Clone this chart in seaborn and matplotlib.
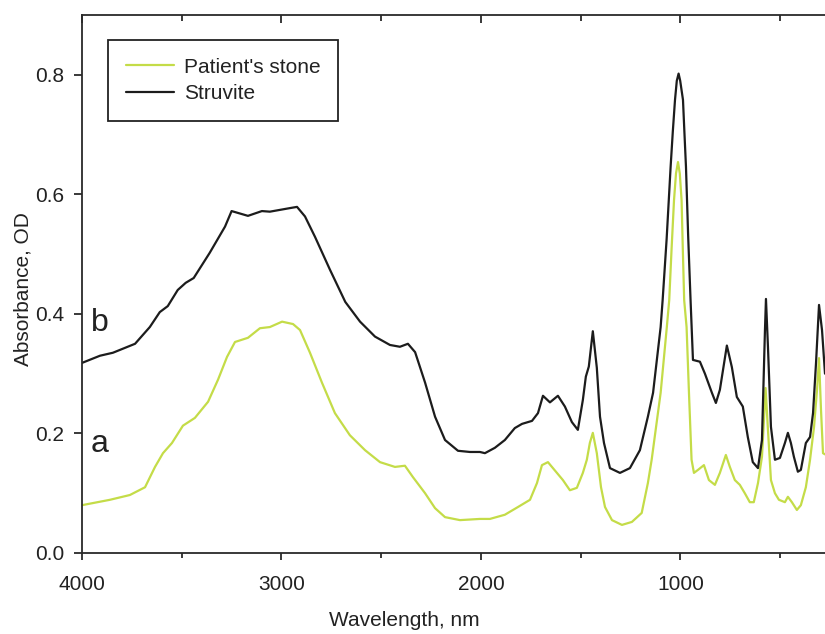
import matplotlib
matplotlib.use("Agg")
import matplotlib.pyplot as plt
import seaborn as sns
import pandas as pd
from matplotlib.ticker import MultipleLocator

# ---- data ----
struvite_wn = [4000, 3910, 3845, 3734, 3660, 3610, 3570, 3520, 3480, 3440,
               3360, 3283, 3250, 3168, 3098, 3058, 2957, 2922, 2882, 2832,
               2757, 2680, 2606, 2531, 2456, 2406, 2366, 2330, 2280, 2230,
               2180, 2115, 2055, 2005, 1980, 1930, 1880, 1830, 1794, 1744,
               1714, 1689, 1654, 1614, 1579, 1544, 1514, 1489, 1474, 1459,
               1439, 1419, 1403, 1383, 1353, 1303, 1253, 1203, 1163, 1137,
               1099, 1089, 1069, 1049, 1038, 1027, 1018, 1009, 1001, 987,
               980, 972, 961, 949, 937, 902,
               877, 842, 822, 802, 767, 742, 717, 687, 662, 637,
               611, 591, 576, 571, 561, 546, 526, 501, 476, 461,
               446, 431, 411, 396, 371, 350, 335, 320, 305, 290,
               275]
struvite_abs = [0.318, 0.330, 0.335, 0.350, 0.378, 0.403, 0.413, 0.440, 0.452, 0.460,
                0.502, 0.546, 0.572, 0.564, 0.572, 0.571, 0.577, 0.579, 0.563, 0.529,
                0.474, 0.420, 0.387, 0.362, 0.348, 0.345, 0.350, 0.336, 0.285, 0.228,
                0.189, 0.171, 0.169, 0.169, 0.167, 0.176, 0.189, 0.209, 0.216, 0.221,
                0.234, 0.263, 0.252, 0.263, 0.245, 0.219, 0.206, 0.256, 0.295, 0.312,
                0.371, 0.310, 0.228, 0.184, 0.142, 0.134, 0.142, 0.172, 0.228, 0.268,
                0.378, 0.423, 0.525, 0.646, 0.705, 0.758, 0.790, 0.802, 0.790, 0.758,
                0.705, 0.646, 0.530, 0.423, 0.323, 0.320,
                0.300, 0.268, 0.251, 0.273, 0.347, 0.311, 0.261, 0.245, 0.194, 0.152,
                0.142, 0.189, 0.373, 0.425, 0.345, 0.211, 0.156, 0.159, 0.184, 0.201,
                0.184, 0.161, 0.136, 0.139, 0.184, 0.194, 0.234, 0.318, 0.415, 0.373,
                0.300]

patient_wn = [4000, 3860, 3760, 3684, 3634, 3594, 3549, 3494, 3434, 3368,
              3318, 3273, 3233, 3168, 3108, 3058, 2997, 2942, 2907, 2857,
              2797, 2732, 2657, 2581, 2506, 2431, 2381, 2341, 2280, 2230,
              2180, 2105, 2005, 1955, 1880, 1814, 1754, 1719, 1694, 1664,
              1619, 1589, 1554, 1519, 1489, 1469, 1454, 1439, 1419, 1398,
              1378, 1343, 1293, 1243, 1194, 1163, 1144, 1099, 1068, 1056,
              1044, 1032, 1022, 1012, 1003, 994, 988, 981, 969, 957,
              944, 932, 912, 882,
              857, 827, 802, 772, 752, 727, 702, 677, 652, 632,
              611, 591, 581, 573, 561, 546, 526, 506, 476, 461,
              441, 416, 396, 371, 350, 330, 315, 305, 295, 285,
              275]
patient_abs = [0.080, 0.089, 0.097, 0.110, 0.144, 0.167, 0.184, 0.213, 0.226, 0.253,
               0.290, 0.328, 0.353, 0.360, 0.376, 0.378, 0.387, 0.383, 0.373, 0.335,
               0.285, 0.234, 0.197, 0.172, 0.152, 0.144, 0.146, 0.127, 0.100, 0.075,
               0.060, 0.055, 0.057, 0.057, 0.064, 0.077, 0.089, 0.117, 0.147, 0.152,
               0.134, 0.122, 0.105, 0.109, 0.134, 0.156, 0.184, 0.201, 0.167, 0.110,
               0.077, 0.055, 0.047, 0.052, 0.067, 0.117, 0.156, 0.268, 0.378, 0.423,
               0.510, 0.590, 0.635, 0.654, 0.635, 0.590, 0.510, 0.423, 0.378, 0.268,
               0.156, 0.134, 0.139, 0.147,
               0.122, 0.114, 0.134, 0.164, 0.144, 0.122, 0.114, 0.100, 0.085, 0.085,
               0.117, 0.161, 0.223, 0.276, 0.206, 0.122, 0.100, 0.089, 0.085, 0.094,
               0.085, 0.072, 0.080, 0.110, 0.156, 0.211, 0.273, 0.326, 0.239, 0.167,
               0.165]

series_names = ["Patient's stone", "Struvite"]
x_ticks = [4000, 3000, 2000, 1000]
y_ticks = [0.0, 0.2, 0.4, 0.6, 0.8]

# ---- style ----
sns.set_style("ticks")
plt.rcParams['font.family'] = ['Liberation Sans', 'DejaVu Sans']

green = "#c4dc48"
black = "#1c1c1c"
FS = 15

fig = plt.figure(figsize=(8.25, 6.34), dpi=100)
ax = fig.add_axes([82 / 825, 1 - 553 / 634, 743 / 825, 538 / 634])

df_p = pd.DataFrame({"wn": patient_wn, "abs": patient_abs})
df_s = pd.DataFrame({"wn": struvite_wn, "abs": struvite_abs})

sns.lineplot(data=df_p, x="wn", y="abs", ax=ax, color=green, lw=1.6,
             label=series_names[0], estimator=None)
sns.lineplot(data=df_s, x="wn", y="abs", ax=ax, color=black, lw=1.6,
             label=series_names[1], estimator=None)

ax.set_xlim(4000, 275)
ax.set_ylim(0, 0.9)
ax.set_xticks(x_ticks)
ax.set_xticklabels([str(t) for t in x_ticks])
ax.xaxis.set_minor_locator(MultipleLocator(500))
ax.set_yticks(y_ticks)
ax.set_yticklabels([f"{t:.1f}" for t in y_ticks])

for s in ["left", "bottom", "top"]:
    ax.spines[s].set_linewidth(1.3)
    ax.spines[s].set_color("#2a2a2a")
ax.spines["right"].set_visible(False)

ax.tick_params(axis="x", which="major", direction="out", length=5, width=1.3,
               labelsize=FS, pad=11, colors="#2a2a2a", labelcolor="#222222",
               top=False)
ax.tick_params(axis="x", which="minor", direction="out", length=3.5, width=1.3,
               colors="#2a2a2a", top=False)
ax.tick_params(axis="y", which="major", direction="out", length=6, width=1.3,
               labelsize=FS, pad=7, colors="#2a2a2a", labelcolor="#222222")

# inward ticks along the top spine
ax_top = ax.secondary_xaxis("top")
ax_top.set_xticks(x_ticks)
ax_top.xaxis.set_minor_locator(MultipleLocator(500))
ax_top.tick_params(axis="x", which="major", direction="in", length=6, width=1.3,
                   labeltop=False, colors="#2a2a2a")
ax_top.tick_params(axis="x", which="minor", direction="in", length=4, width=1.3,
                   colors="#2a2a2a")
ax_top.spines["top"].set_visible(False)

ax.set_xlabel("Wavelength, nm", fontsize=FS, color="#222222")
ax.xaxis.set_label_coords((404 - 82) / 743, -0.108)
ax.set_ylabel("Absorbance, OD", fontsize=FS, color="#222222")
ax.yaxis.set_label_coords(-0.067, 0.49)

ax.text(3955, 0.372, "b", fontsize=23, color="#222222", ha="left", va="baseline")
ax.text(3955, 0.169, "a", fontsize=23, color="#222222", ha="left", va="baseline")

leg = ax.legend(loc="upper left", bbox_to_anchor=((108 - 82) / 743, (553 - 40) / 538),
                borderaxespad=0, fontsize=FS, frameon=True, fancybox=False,
                framealpha=1, edgecolor="#222222", handlelength=2.3,
                handletextpad=0.5, borderpad=0.85, labelspacing=0.35)
leg.get_frame().set_linewidth(1.3)
for t in leg.get_texts():
    t.set_color("#222222")

fig.savefig("out.png", dpi=100)
